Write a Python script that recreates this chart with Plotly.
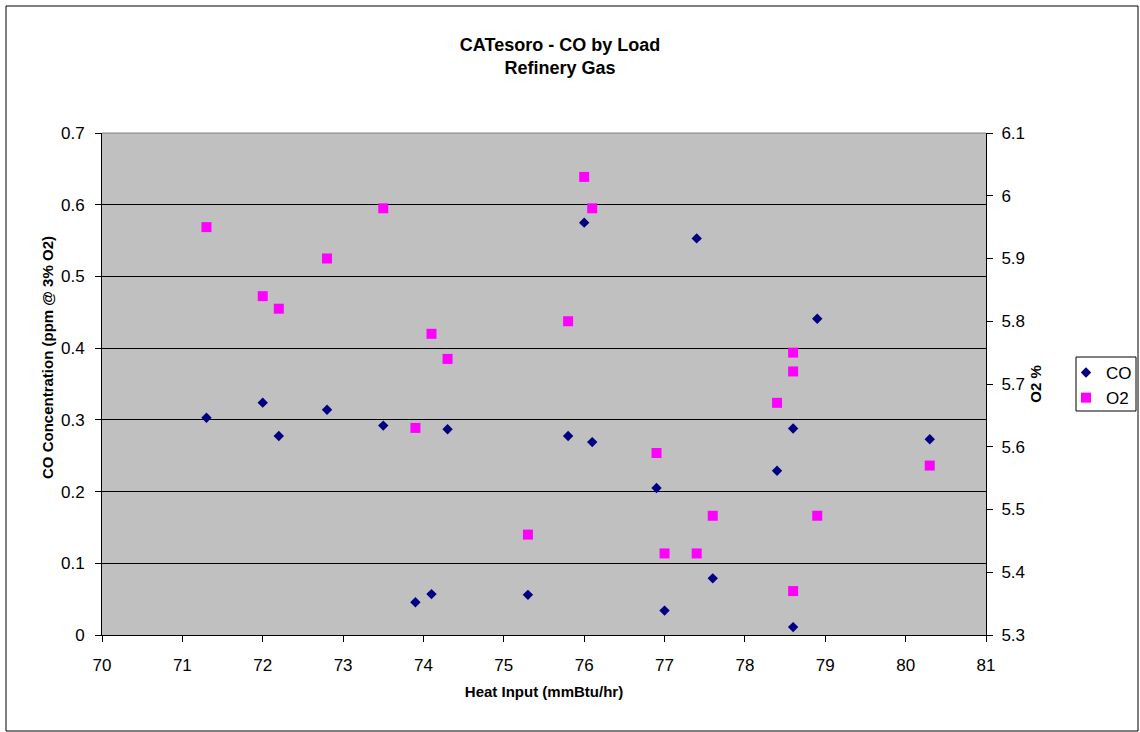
import plotly.graph_objects as go

# Heat input (mmBtu/hr)
co_x = [71.3, 72.0, 72.2, 72.8, 73.5, 73.9, 74.1, 74.3, 75.3, 75.8,
        76.0, 76.1, 76.9, 77.0, 77.4, 77.6, 78.4, 78.6, 78.6, 78.9, 80.3]
co_y = [0.303, 0.324, 0.2775, 0.314, 0.292, 0.0456, 0.057, 0.287, 0.056, 0.2775,
        0.575, 0.269, 0.205, 0.034, 0.553, 0.079, 0.229, 0.288, 0.011, 0.441, 0.273]

o2_x = [71.3, 72.0, 72.2, 72.8, 73.5, 73.9, 74.1, 74.3, 75.3, 75.8,
        76.0, 76.1, 76.9, 77.0, 77.4, 77.6, 78.4, 78.6, 78.6, 78.6, 78.9, 80.3]
o2_y = [5.95, 5.84, 5.82, 5.90, 5.98, 5.63, 5.78, 5.74, 5.46, 5.80,
        6.03, 5.98, 5.59, 5.43, 5.43, 5.49, 5.67, 5.75, 5.72, 5.37, 5.49, 5.57]

co_ticks = [0, 0.1, 0.2, 0.3, 0.4, 0.5, 0.6, 0.7]
co_tick_text = ["0", "0.1", "0.2", "0.3", "0.4", "0.5", "0.6", "0.7"]
o2_ticks = [5.3, 5.4, 5.5, 5.6, 5.7, 5.8, 5.9, 6.0, 6.1]
o2_tick_text = ["5.3", "5.4", "5.5", "5.6", "5.7", "5.8", "5.9", "6", "6.1"]

FONT = "Arial, Liberation Sans, sans-serif"
W, H = 1140, 732
L, R, T, B = 102, 986, 133, 635
pw, ph = R - L, B - T


def px(xp):
    return (xp - L) / pw


def py(yp):
    return (B - yp) / ph


fig = go.Figure()
fig.add_trace(go.Scatter(
    x=co_x, y=co_y, mode="markers", name="CO",
    marker=dict(symbol="diamond", size=8, color="#000080",
                line=dict(width=0)),
    yaxis="y"))
fig.add_trace(go.Scatter(
    x=o2_x, y=o2_y, mode="markers", name="O2",
    marker=dict(symbol="square", size=10, color="#FF00FF",
                line=dict(width=0)),
    yaxis="y2"))

fig.update_layout(
    width=W, height=H,
    margin=dict(l=L, r=W - R, t=T, b=H - B, autoexpand=False),
    paper_bgcolor="white",
    plot_bgcolor="#C0C0C0",
    font=dict(family=FONT, size=17, color="black"),
    title=dict(
        text="<b>CATesoro - CO by Load<br>Refinery Gas</b>",
        x=px(560), xanchor="center", xref="paper",
        y=1 - 51 / H, yanchor="middle", yref="container",
        font=dict(family=FONT, size=18, color="black")),
    xaxis=dict(
        range=[70, 81], dtick=1, tick0=70,
        showgrid=False, zeroline=False,
        showline=True, linecolor="black", linewidth=1,
        ticks="outside", ticklen=6, tickcolor="black",
        ticklabelstandoff=9,
        tickfont=dict(size=17),
        title=dict(text="<b>Heat Input (mmBtu/hr)</b>",
                   font=dict(size=15), standoff=12)),
    yaxis=dict(
        range=[0, 0.7],
        showgrid=True, gridcolor="black", gridwidth=1,
        zeroline=False,
        showline=True, linecolor="black", linewidth=1,
        ticks="outside", ticklen=6, tickcolor="black",
        ticklabelstandoff=7,
        tickfont=dict(size=17),
        tickvals=co_ticks, ticktext=co_tick_text),
    yaxis2=dict(
        range=[5.3, 6.1],
        overlaying="y", side="right",
        showgrid=False, zeroline=False,
        showline=True, linecolor="black", linewidth=1,
        ticks="outside", ticklen=6, tickcolor="black",
        ticklabelstandoff=5,
        tickfont=dict(size=17),
        tickvals=o2_ticks, ticktext=o2_tick_text,
        title=dict(text="<b>O2 %</b>", font=dict(size=15), standoff=6)),
    legend=dict(
        x=px(1066), y=py(355), xanchor="left", yanchor="top",
        bgcolor="rgba(0,0,0,0)", borderwidth=0,
        font=dict(size=17), itemwidth=30,
        tracegroupgap=0),
    showlegend=True,
    annotations=[
        dict(text="<b>CO Concentration (ppm @ 3% O2)</b>",
             xref="paper", yref="paper", x=px(47), y=py(358),
             xanchor="center", yanchor="middle", textangle=-90,
             showarrow=False, font=dict(size=15, family=FONT)),
    ],
    shapes=[
        dict(type="rect", xref="paper", yref="paper",
             x0=px(6), x1=px(1138), y0=py(731), y1=py(6),
             line=dict(color="black", width=1), fillcolor="rgba(0,0,0,0)",
             layer="below"),
        dict(type="rect", xref="paper", yref="paper",
             x0=px(1076), x1=px(1136), y0=py(411), y1=py(357),
             line=dict(color="black", width=1), fillcolor="white",
             layer="below"),
        dict(type="line", xref="paper", yref="paper",
             x0=0, x1=1, y0=1, y1=1,
             line=dict(color="#808080", width=1), layer="above"),
    ],
)

fig.write_html("out.html")
